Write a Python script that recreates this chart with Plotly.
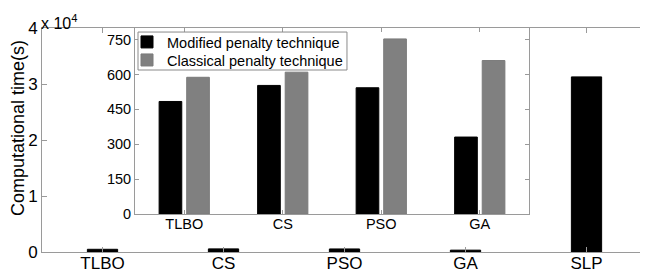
import plotly.graph_objects as go

# Main chart data
main_categories = ["TLBO", "CS", "PSO", "GA", "SLP"]
main_times = [484, 553, 543, 331, 31270]
main_ytick_vals = [0, 10000, 20000, 30000, 40000]
main_ytick_text = ["0", "1", "2", "3", "4"]

# Inset data
inset_categories = ["TLBO", "CS", "PSO", "GA"]
modified_penalty = [484, 553, 543, 331]
classical_penalty = [588, 610, 753, 660]
inset_ytick_vals = [0, 150, 300, 450, 600, 750]

FONT = "Liberation Sans, Arial, Helvetica, sans-serif"
AXCOL = "#9a9a9a"

fig = go.Figure()

fig.add_trace(go.Bar(
    x=main_categories, y=main_times, width=0.25,
    marker=dict(color="black", line=dict(color="black", width=1)),
    showlegend=False, xaxis="x", yaxis="y",
))

fig.add_trace(go.Bar(
    x=inset_categories, y=modified_penalty, width=0.23, offset=-0.255,
    name="Modified penalty technique", legend="legend",
    marker=dict(color="black", line=dict(color="black", width=1)),
    xaxis="x2", yaxis="y2",
))
fig.add_trace(go.Bar(
    x=inset_categories, y=classical_penalty, width=0.23, offset=0.025,
    name="Classical penalty technique", legend="legend2",
    marker=dict(color="#808080", line=dict(color="#7a7a7a", width=1)),
    xaxis="x2", yaxis="y2",
))

leg_common = dict(
    xanchor="left", yanchor="middle",
    bgcolor="rgba(0,0,0,0)", borderwidth=0,
    font=dict(size=14.5),
)

# The page body has an 8px margin, so the figure is 8px smaller each way
fig.update_layout(
    width=640, height=272,
    margin=dict(l=34, r=1, t=20, b=28),
    paper_bgcolor="white", plot_bgcolor="white",
    barmode="overlay",
    font=dict(family=FONT, color="black"),
    xaxis=dict(
        type="category", range=[-0.5, 4.5], domain=[0, 1],
        showline=True, linecolor=AXCOL, linewidth=1, mirror="ticks",
        ticks="inside", ticklen=5, tickcolor=AXCOL,
        tickfont=dict(size=17), showgrid=False, zeroline=False,
        ticklabelstandoff=-4,
    ),
    yaxis=dict(
        range=[0, 40000], domain=[0, 1],
        tickvals=main_ytick_vals, ticktext=main_ytick_text,
        showline=True, linecolor=AXCOL, linewidth=1, mirror="ticks",
        ticks="inside", ticklen=5, tickcolor=AXCOL,
        tickfont=dict(size=17), showgrid=False, zeroline=False,
    ),
    xaxis2=dict(
        type="category", range=[-0.5, 3.5], domain=[0.1537, 0.805],
        anchor="y2",
        showline=True, linecolor=AXCOL, linewidth=1, mirror="ticks",
        ticks="inside", ticklen=4, tickcolor=AXCOL,
        tickfont=dict(size=14.5), showgrid=False, zeroline=False,
        ticklabelstandoff=-3,
    ),
    yaxis2=dict(
        range=[0, 800], domain=[0.1696, 1.0], anchor="x2",
        tickvals=inset_ytick_vals,
        showline=True, linecolor=AXCOL, linewidth=1, mirror="ticks",
        ticks="inside", ticklen=4, tickcolor=AXCOL,
        tickfont=dict(size=14.5), showgrid=False, zeroline=False,
    ),
    legend=dict(x=0.1405, y=0.9375, **leg_common),
    legend2=dict(x=0.1405, y=0.857, **leg_common),
    shapes=[
        dict(type="rect", xref="paper", yref="paper",
             x0=0.1587, x1=0.5041, y0=0.8125, y1=0.982,
             fillcolor="white", line=dict(color="#8a8a8a", width=1),
             layer="above"),
    ],
    annotations=[
        dict(text="Computational time(s)", textangle=-90,
             xref="paper", yref="paper", x=-0.0397, y=0.553,
             xanchor="center", yanchor="middle", showarrow=False,
             font=dict(size=18)),
        dict(text="x 10<sup>4</sup>", xref="paper", yref="paper",
             x=0.0, y=1.0, xanchor="left", yanchor="bottom",
             yshift=-6, xshift=-3,
             showarrow=False, font=dict(size=16)),
    ],
)

fig.write_html("out.html")
